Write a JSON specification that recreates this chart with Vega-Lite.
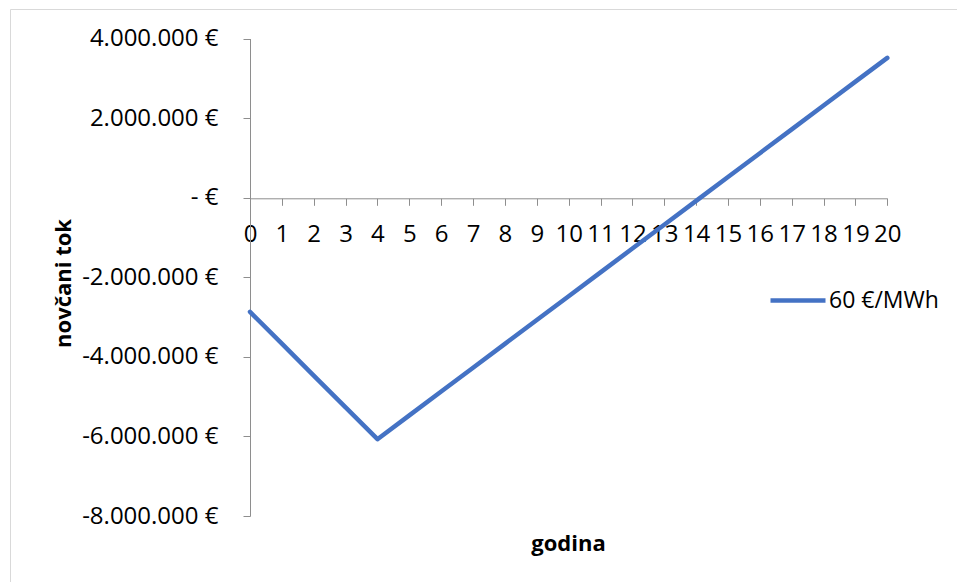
{
  "$schema": "https://vega.github.io/schema/vega-lite/v6.json",
  "width": 947,
  "height": 573,
  "autosize": {"type": "none"},
  "padding": {"left": 10, "top": 9, "right": 0, "bottom": 0},
  "background": "white",
  "config": {
    "locale": {"number": {"decimal": ",", "thousands": ".", "grouping": [3], "currency": ["", " €"], "minus": "-"}},
    "view": {"stroke": "#d9d9d9", "strokeWidth": 1},
    "font": "Open Sans"
  },
  "data": {
    "values": [
      {"godina": 0, "tok": -2870000, "serija": "60 €/MWh"},
      {"godina": 1, "tok": -3670000, "serija": "60 €/MWh"},
      {"godina": 2, "tok": -4470000, "serija": "60 €/MWh"},
      {"godina": 3, "tok": -5270000, "serija": "60 €/MWh"},
      {"godina": 4, "tok": -6070000, "serija": "60 €/MWh"},
      {"godina": 5, "tok": -5471000, "serija": "60 €/MWh"},
      {"godina": 6, "tok": -4872000, "serija": "60 €/MWh"},
      {"godina": 7, "tok": -4273000, "serija": "60 €/MWh"},
      {"godina": 8, "tok": -3674000, "serija": "60 €/MWh"},
      {"godina": 9, "tok": -3075000, "serija": "60 €/MWh"},
      {"godina": 10, "tok": -2476000, "serija": "60 €/MWh"},
      {"godina": 11, "tok": -1877000, "serija": "60 €/MWh"},
      {"godina": 12, "tok": -1278000, "serija": "60 €/MWh"},
      {"godina": 13, "tok": -679000, "serija": "60 €/MWh"},
      {"godina": 14, "tok": -80000, "serija": "60 €/MWh"},
      {"godina": 15, "tok": 519000, "serija": "60 €/MWh"},
      {"godina": 16, "tok": 1118000, "serija": "60 €/MWh"},
      {"godina": 17, "tok": 1717000, "serija": "60 €/MWh"},
      {"godina": 18, "tok": 2316000, "serija": "60 €/MWh"},
      {"godina": 19, "tok": 2915000, "serija": "60 €/MWh"},
      {"godina": 20, "tok": 3514000, "serija": "60 €/MWh"}
    ]
  },
  "mark": {"type": "line", "strokeWidth": 4.5, "strokeCap": "round", "strokeJoin": "round"},
  "encoding": {
    "x": {
      "field": "godina",
      "type": "quantitative",
      "scale": {"domain": [0, 20], "range": [240, 877.3], "nice": false, "zero": false},
      "axis": {
        "orient": "bottom",
        "offset": -383.7,
        "values": [0,1,2,3,4,5,6,7,8,9,10,11,12,13,14,15,16,17,18,19,20],
        "grid": false,
        "domainColor": "#8e8e8e",
        "tickColor": "#8e8e8e",
        "tickSize": 7,
        "labelFontSize": 24,
        "labelColor": "#000000",
        "labelPadding": 17,
        "labelBaseline": "top",
        "labelFlush": false,
        "labelOverlap": false,
        "labelBound": false,
        "title": "godina",
        "titleFontSize": 22,
        "titleFontWeight": "bold",
        "titleColor": "#000000",
        "titleX": 558,
        "titleY": 344.7,
        "titleAlign": "center",
        "titleBaseline": "middle"
      }
    },
    "y": {
      "field": "tok",
      "type": "quantitative",
      "scale": {"domain": [-8000000, 4000000], "range": [507, 29.5], "nice": false, "zero": false},
      "axis": {
        "orient": "left",
        "offset": -240,
        "values": [-8000000, -6000000, -4000000, -2000000, 0, 2000000, 4000000],
        "grid": false,
        "domainColor": "#8e8e8e",
        "tickColor": "#8e8e8e",
        "tickSize": 7,
        "labelFontSize": 24,
        "labelColor": "#000000",
        "labelPadding": 25,
        "labelExpr": "datum.value == 0 ? '- €' : format(datum.value, ',.0f') + ' €'",
        "title": "novčani tok",
        "titleFontSize": 22,
        "titleFontWeight": "bold",
        "titleColor": "#000000",
        "titleX": -187,
        "titleY": 274,
        "titleAngle": -90,
        "titleAlign": "center",
        "titleBaseline": "middle"
      }
    },
    "color": {
      "field": "serija",
      "type": "nominal",
      "scale": {"range": ["#4472C4"]},
      "legend": {
        "orient": "none",
        "legendX": 758,
        "legendY": 261.5,
        "title": null,
        "symbolType": "stroke",
        "symbolSize": 3025,
        "symbolStrokeWidth": 4.5,
        "labelFontSize": 23,
        "labelColor": "#000000",
        "labelOffset": 1,
        "padding": 0
      }
    }
  }
}
